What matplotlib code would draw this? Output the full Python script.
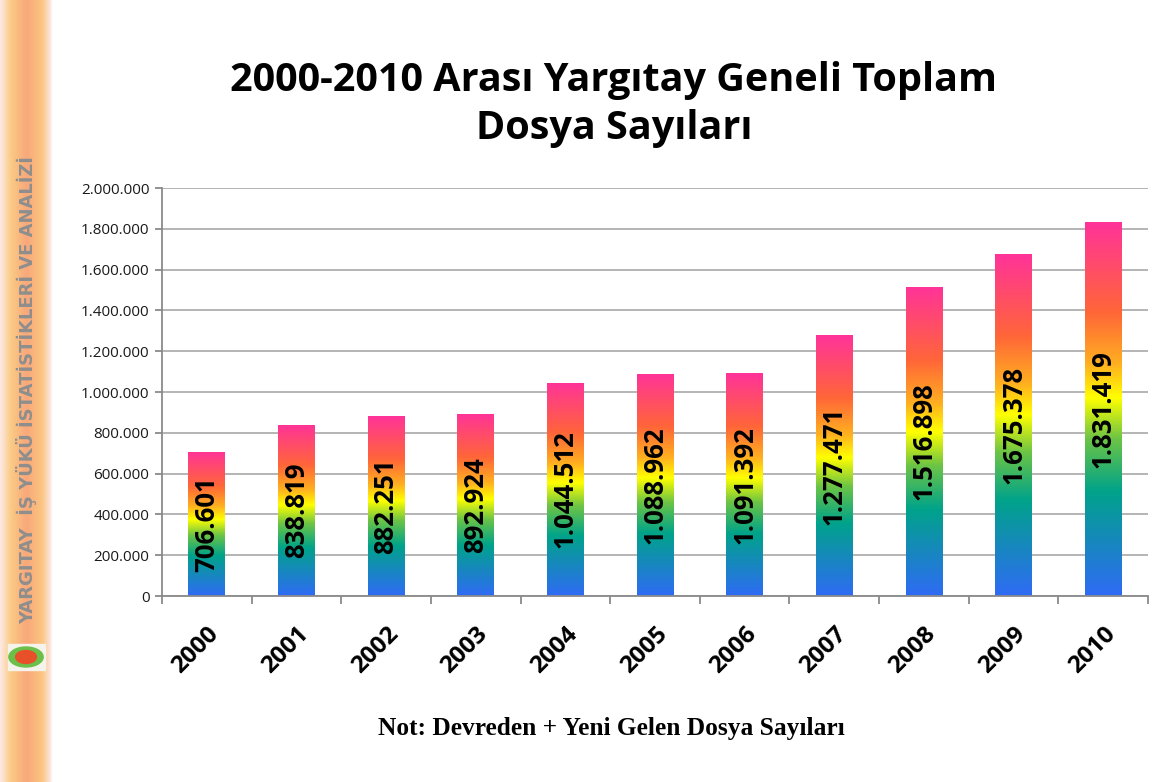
import matplotlib.pyplot as plt
import numpy as np
from matplotlib.colors import LinearSegmentedColormap
from matplotlib.patches import Ellipse, Rectangle

years = ["2000", "2001", "2002", "2003", "2004", "2005",
         "2006", "2007", "2008", "2009", "2010"]
dosya = [706601, 838819, 882251, 892924, 1044512, 1088962,
         1091392, 1277471, 1516898, 1675378, 1831419]
y_ticks = [0, 200000, 400000, 600000, 800000, 1000000,
           1200000, 1400000, 1600000, 1800000, 2000000]


def tr_fmt(v):
    return f"{v:,}".replace(",", ".")


rainbow = LinearSegmentedColormap.from_list("rainbow_bar", [
    (0.0, "#2F6BF5"), (0.28, "#00A38A"), (0.42, "#6CC445"),
    (0.53, "#FFFF00"), (0.62, "#FFB020"), (0.76, "#FF6638"),
    (1.0, "#FF3399")])

fig = plt.figure(figsize=(11.55, 7.82), dpi=100)
fig.patch.set_facecolor("white")

# left banner
band = fig.add_axes([0, 0, 52 / 1155, 1])
prof = LinearSegmentedColormap.from_list("band", [
    (0.0, "#FDEAE6"), (0.2, "#FBCB85"), (0.5, "#F8A87A"),
    (0.8, "#FBC580"), (0.95, "#FCE3DA"), (1.0, "#FFFFFF")])
band.imshow(np.linspace(0, 1, 100)[None, :], cmap=prof, aspect="auto",
            extent=(0, 1, 0, 1))
band.set_xlim(0, 1)
band.set_ylim(0, 1)
band.axis("off")
band.text(0.52, 1 - 390 / 782, "YARGITAY  İŞ YÜKÜ İSTATİSTİKLERİ VE ANALİZİ",
          rotation=90, ha="center", va="center", color="#8E8E8E",
          fontsize=13, fontweight="bold", family="DejaVu Sans")
band.add_patch(Rectangle((0.15, 1 - 670 / 782), 0.72, 26 / 782,
                         color="#F4F4EC", zorder=2))
band.add_patch(Ellipse((0.5, 1 - 657 / 782), 0.66, 20 / 782,
                       color="#6CC04A", zorder=3))
band.add_patch(Ellipse((0.5, 1 - 657 / 782), 0.4, 13 / 782,
                       color="#E8502A", zorder=4))

ax = fig.add_axes([162 / 1155, 1 - 596 / 782, (1148 - 162) / 1155, 408 / 782])
x = np.arange(len(years))
bars = ax.bar(x, dosya, width=0.41, color="none", zorder=2)
grad = np.linspace(0, 1, 256)[:, None]
for b, v in zip(bars, dosya):
    im = ax.imshow(grad, cmap=rainbow, origin="lower", aspect="auto",
                   extent=(b.get_x(), b.get_x() + b.get_width(), 0, v),
                   zorder=2)
    im.set_clip_path(b)
    ax.text(b.get_x() + b.get_width() / 2, v / 2, tr_fmt(v), rotation=90,
            ha="center", va="center", fontsize=18.5, fontweight="bold",
            family="Open Sans", color="black", zorder=3)

ax.set_xlim(-0.5, len(years) - 0.5)
ax.set_ylim(0, 2000000)
ax.set_yticks(y_ticks)
ax.set_yticklabels([tr_fmt(t) for t in y_ticks], fontsize=11,
                   family="Open Sans", color="#1A1A1A")
ax.set_xticks(x)
ax.set_xticklabels(years, rotation=45, ha="right", va="top",
                   rotation_mode="anchor", fontsize=17.5, fontweight="bold",
                   family="Open Sans")
ax.set_xticks(np.arange(len(years) + 1) - 0.5, minor=True)
ax.tick_params(axis="x", which="major", length=0, pad=19)
ax.tick_params(axis="x", which="minor", length=6, color="#8A8A8A", width=1.3)
ax.tick_params(axis="y", length=5, color="#8A8A8A", width=1.3, pad=4)
ax.grid(axis="y", color="#A8A8A8", linewidth=1.2, zorder=0)
ax.set_axisbelow(True)
for s in ["top", "right"]:
    ax.spines[s].set_visible(False)
for s in ["left", "bottom"]:
    ax.spines[s].set_color("#8A8A8A")
    ax.spines[s].set_linewidth(1.3)

fig.text(614 / 1155, 1 - 104 / 782,
         "2000-2010 Arası Yargıtay Geneli Toplam\nDosya Sayıları",
         ha="center", va="center", fontsize=28.5, fontweight="bold",
         family="Open Sans", linespacing=1.3)
fig.text(611 / 1155, 1 - 728 / 782, "Not: Devreden + Yeni Gelen Dosya Sayıları",
         ha="center", va="center", fontsize=18.3, fontweight="bold",
         family="Liberation Serif")

fig.savefig("out.png", dpi=100)
